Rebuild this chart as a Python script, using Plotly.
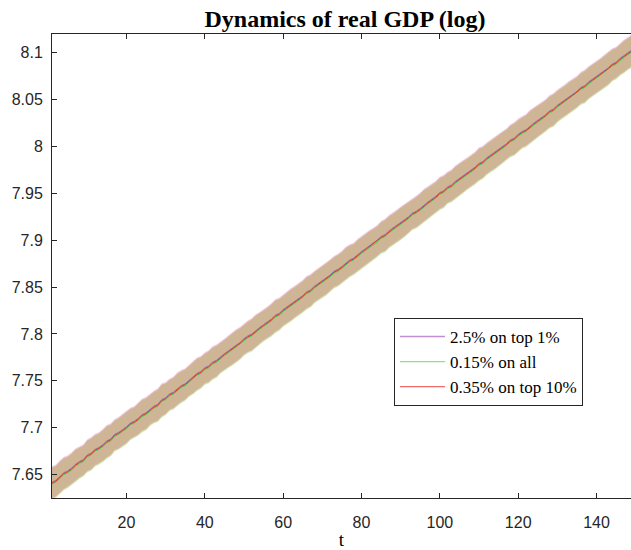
import plotly.graph_objects as go

# ---- data ----
t = list(range(1, 151))

gdp_top1 = [
    7.642, 7.644, 7.648, 7.652, 7.654, 7.657, 7.661, 7.664, 7.666, 7.671,
    7.673, 7.677, 7.679, 7.682, 7.686, 7.688, 7.693, 7.695, 7.698, 7.701,
    7.705, 7.707, 7.710, 7.714, 7.716, 7.720, 7.723, 7.725, 7.730, 7.732,
    7.736, 7.738, 7.742, 7.745, 7.747, 7.751, 7.754, 7.758, 7.760, 7.764,
    7.766, 7.770, 7.772, 7.776, 7.779, 7.782, 7.785, 7.788, 7.791, 7.795,
    7.798, 7.800, 7.804, 7.807, 7.810, 7.813, 7.816, 7.820, 7.822, 7.826,
    7.829, 7.832, 7.835, 7.838, 7.841, 7.845, 7.847, 7.851, 7.854, 7.857,
    7.860, 7.863, 7.867, 7.869, 7.872, 7.876, 7.879, 7.881, 7.885, 7.888,
    7.891, 7.894, 7.897, 7.900, 7.904, 7.906, 7.910, 7.913, 7.916, 7.919,
    7.922, 7.925, 7.929, 7.931, 7.934, 7.938, 7.941, 7.944, 7.947, 7.951,
    7.953, 7.957, 7.959, 7.963, 7.966, 7.969, 7.972, 7.975, 7.978, 7.982,
    7.984, 7.988, 7.991, 7.994, 7.997, 8.000, 8.003, 8.007, 8.009, 8.013,
    8.016, 8.018, 8.022, 8.025, 8.028, 8.031, 8.034, 8.038, 8.040, 8.044,
    8.047, 8.050, 8.053, 8.056, 8.059, 8.063, 8.065, 8.069, 8.072, 8.075,
    8.078, 8.081, 8.084, 8.088, 8.090, 8.094, 8.097, 8.100, 8.103, 8.106,
]

gdp_all = [
    7.640, 7.642, 7.646, 7.650, 7.652, 7.655, 7.659, 7.662, 7.664, 7.669,
    7.671, 7.675, 7.677, 7.680, 7.684, 7.686, 7.691, 7.693, 7.696, 7.699,
    7.703, 7.705, 7.708, 7.712, 7.714, 7.718, 7.721, 7.723, 7.728, 7.730,
    7.734, 7.736, 7.740, 7.743, 7.745, 7.749, 7.752, 7.756, 7.758, 7.762,
    7.764, 7.768, 7.770, 7.774, 7.777, 7.780, 7.783, 7.786, 7.789, 7.793,
    7.796, 7.798, 7.802, 7.805, 7.808, 7.811, 7.814, 7.818, 7.820, 7.824,
    7.827, 7.830, 7.833, 7.836, 7.839, 7.843, 7.845, 7.849, 7.852, 7.855,
    7.858, 7.861, 7.865, 7.867, 7.870, 7.874, 7.877, 7.879, 7.883, 7.886,
    7.889, 7.892, 7.895, 7.898, 7.902, 7.904, 7.908, 7.911, 7.914, 7.917,
    7.920, 7.923, 7.927, 7.929, 7.932, 7.936, 7.939, 7.942, 7.945, 7.949,
    7.951, 7.955, 7.957, 7.961, 7.964, 7.967, 7.970, 7.973, 7.976, 7.980,
    7.982, 7.986, 7.989, 7.992, 7.995, 7.998, 8.001, 8.005, 8.007, 8.011,
    8.014, 8.016, 8.020, 8.023, 8.026, 8.029, 8.032, 8.036, 8.038, 8.042,
    8.045, 8.048, 8.051, 8.054, 8.057, 8.061, 8.063, 8.067, 8.070, 8.073,
    8.076, 8.079, 8.082, 8.086, 8.088, 8.092, 8.095, 8.098, 8.101, 8.104,
]

gdp_top10 = [
    7.641, 7.643, 7.647, 7.651, 7.653, 7.656, 7.660, 7.663, 7.665, 7.670,
    7.672, 7.676, 7.678, 7.681, 7.685, 7.687, 7.692, 7.694, 7.697, 7.700,
    7.704, 7.706, 7.709, 7.713, 7.715, 7.719, 7.722, 7.724, 7.729, 7.731,
    7.735, 7.737, 7.741, 7.744, 7.746, 7.750, 7.753, 7.757, 7.759, 7.763,
    7.765, 7.769, 7.771, 7.775, 7.778, 7.781, 7.784, 7.787, 7.790, 7.794,
    7.797, 7.799, 7.803, 7.806, 7.809, 7.812, 7.815, 7.819, 7.821, 7.825,
    7.828, 7.831, 7.834, 7.837, 7.840, 7.844, 7.846, 7.850, 7.853, 7.856,
    7.859, 7.862, 7.866, 7.868, 7.871, 7.875, 7.878, 7.880, 7.884, 7.887,
    7.890, 7.893, 7.896, 7.899, 7.903, 7.905, 7.909, 7.912, 7.915, 7.918,
    7.921, 7.924, 7.928, 7.930, 7.933, 7.937, 7.940, 7.943, 7.946, 7.950,
    7.952, 7.956, 7.958, 7.962, 7.965, 7.968, 7.971, 7.974, 7.977, 7.981,
    7.983, 7.987, 7.990, 7.993, 7.996, 7.999, 8.002, 8.006, 8.008, 8.012,
    8.015, 8.017, 8.021, 8.024, 8.027, 8.030, 8.033, 8.037, 8.039, 8.043,
    8.046, 8.049, 8.052, 8.055, 8.058, 8.062, 8.064, 8.068, 8.071, 8.074,
    8.077, 8.080, 8.083, 8.087, 8.089, 8.093, 8.096, 8.099, 8.102, 8.105,
]

# half-width of the confidence band (same shape for all series)
band_halfwidth = [
    0.0170, 0.0168, 0.0172, 0.0169, 0.0165, 0.0167, 0.0171, 0.0166, 0.0163, 0.0168,
    0.0170, 0.0166, 0.0164, 0.0169, 0.0172, 0.0167, 0.0163, 0.0166, 0.0170, 0.0168,
    0.0165, 0.0162, 0.0167, 0.0171, 0.0169, 0.0164, 0.0166, 0.0170, 0.0173, 0.0168,
    0.0164, 0.0167, 0.0171, 0.0168, 0.0165, 0.0163, 0.0167, 0.0170, 0.0166, 0.0164,
    0.0168, 0.0171, 0.0169, 0.0165, 0.0162, 0.0166, 0.0170, 0.0172, 0.0167, 0.0164,
    0.0166, 0.0169, 0.0171, 0.0167, 0.0163, 0.0165, 0.0169, 0.0172, 0.0168, 0.0165,
    0.0167, 0.0170, 0.0166, 0.0163, 0.0167, 0.0171, 0.0169, 0.0165, 0.0164, 0.0168,
    0.0171, 0.0168, 0.0165, 0.0167, 0.0170, 0.0173, 0.0168, 0.0164, 0.0166, 0.0169,
    0.0172, 0.0168, 0.0165, 0.0163, 0.0167, 0.0170, 0.0168, 0.0165, 0.0167, 0.0171,
    0.0169, 0.0166, 0.0163, 0.0166, 0.0170, 0.0172, 0.0168, 0.0165, 0.0167, 0.0170,
    0.0168, 0.0164, 0.0166, 0.0170, 0.0173, 0.0169, 0.0165, 0.0163, 0.0167, 0.0171,
    0.0168, 0.0165, 0.0167, 0.0171, 0.0169, 0.0166, 0.0163, 0.0167, 0.0170, 0.0168,
    0.0165, 0.0167, 0.0171, 0.0172, 0.0168, 0.0164, 0.0166, 0.0169, 0.0171, 0.0167,
    0.0164, 0.0166, 0.0170, 0.0168, 0.0165, 0.0167, 0.0171, 0.0169, 0.0166, 0.0164,
    0.0167, 0.0170, 0.0172, 0.0168, 0.0165, 0.0167, 0.0170, 0.0168, 0.0166, 0.0169,
]

series_names = ["2.5% on top 1%", "0.15% on all", "0.35% on top 10%"]
x_ticks = [20, 40, 60, 80, 100, 120, 140]
y_ticks = [7.65, 7.7, 7.75, 7.8, 7.85, 7.9, 7.95, 8.0, 8.05, 8.1]
y_tick_labels = ["7.65", "7.7", "7.75", "7.8", "7.85", "7.9", "7.95", "8", "8.05", "8.1"]

# ---- styling ----
band_colors = ["rgba(205,125,205,0.3)", "rgba(120,205,100,0.3)", "rgba(215,110,40,0.3)"]
line_colors = ["#A86AC0", "#4CC84C", "#D23E1E"]
legend_colors = ["#C08ED2", "#7FEA7F", "#F06A6A"]
AX = "#262626"

fig = go.Figure()
series = [gdp_top1, gdp_all, gdp_top10]

for vals, bc in zip(series, band_colors):
    upper = [v + h for v, h in zip(vals, band_halfwidth)]
    lower = [v - h for v, h in zip(vals, band_halfwidth)]
    fig.add_trace(go.Scatter(
        x=t + t[::-1], y=upper + lower[::-1], fill="toself",
        fillcolor=bc, line=dict(width=0), mode="lines",
        showlegend=False, hoverinfo="skip"))

for vals, lc in zip(series, line_colors):
    fig.add_trace(go.Scatter(x=t, y=vals, mode="lines",
                             line=dict(color=lc, width=1), showlegend=False))

for name, lc in zip(series_names, legend_colors):
    fig.add_trace(go.Scatter(x=[None], y=[None], mode="lines", name=name,
                             line=dict(color=lc, width=1.3)))

fig.update_layout(
    width=631, height=550,
    margin=dict(l=52, r=0, t=34, b=52),
    paper_bgcolor="white", plot_bgcolor="white",
    title=dict(text="Dynamics of real GDP (log)", xref="paper", x=0.506,
               xanchor="center", yref="container", y=0.967, yanchor="middle",
               font=dict(family="Liberation Serif", size=24, color="black", weight=700)),
    legend=dict(x=0.5907, y=0.388, xanchor="left", yanchor="top",
                bgcolor="white", bordercolor=AX, borderwidth=1,
                font=dict(family="Liberation Serif", size=17, color="black"),
                itemwidth=45, tracegroupgap=0),
    showlegend=True,
)

fig.update_xaxes(range=[1, 148.8], tickvals=x_ticks, ticks="inside", ticklen=5,
                 tickcolor=AX, showline=True, linecolor=AX, linewidth=1, mirror="ticks",
                 showgrid=False, zeroline=False,
                 tickfont=dict(family="Liberation Sans", size=16, color=AX),
                 ticklabelstandoff=10,
                 title=dict(text="t", standoff=4,
                            font=dict(family="Liberation Serif", size=19, color="black")))
fig.update_yaxes(range=[7.625, 8.12], tickvals=y_ticks, ticktext=y_tick_labels,
                 ticks="inside", ticklen=5, tickcolor=AX, showline=True, linecolor=AX,
                 linewidth=1, mirror=False, showgrid=False, zeroline=False,
                 tickfont=dict(family="Liberation Sans", size=16, color=AX),
                 ticklabelstandoff=5)

fig.write_html("out.html", config={"displayModeBar": False},
               post_script="document.body.style.margin='0';")
